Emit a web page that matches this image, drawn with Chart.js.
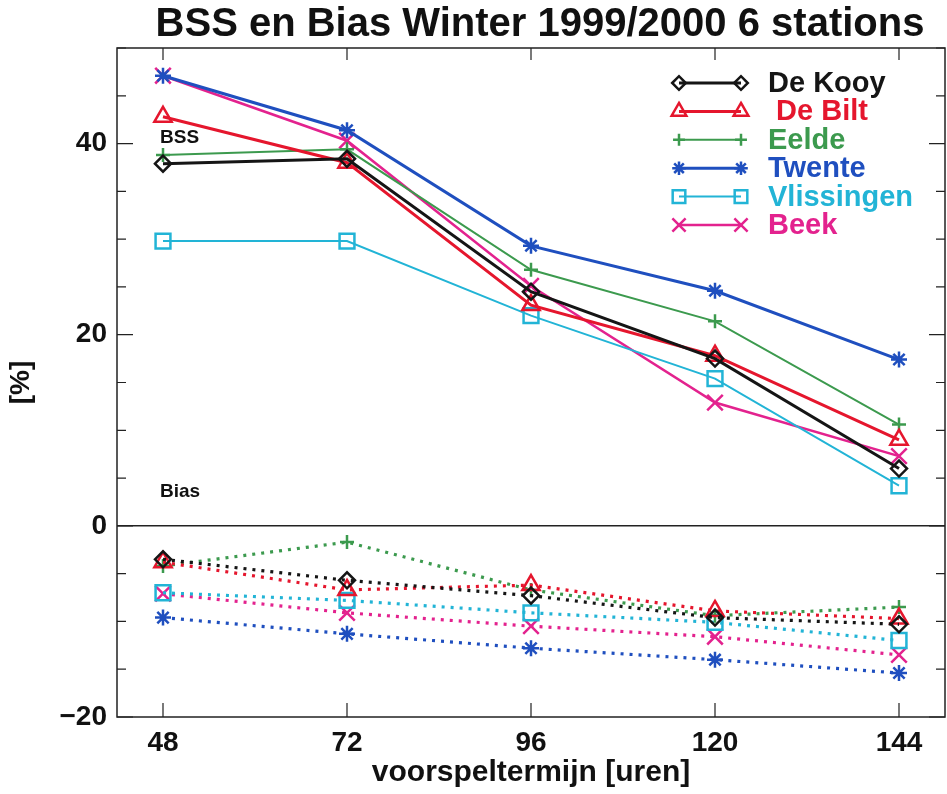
<!DOCTYPE html>
<html>
<head>
<meta charset="utf-8">
<script src="https://cdn.jsdelivr.net/npm/chart.js@4/dist/chart.umd.min.js"></script>
<style>
  html, body { margin: 0; padding: 0; background: #fff; overflow: hidden; }
  canvas { display: block; }
</style>
</head>
<body>
<canvas id="chartBss" width="947" height="794"></canvas>
<script>
// === Data ===
const hours = [48, 72, 96, 120, 144];
const stations = ["De Kooy", " De Bilt", "Eelde", "Twente", "Vlissingen", "Beek"];

const bssDeKooy = [37.9, 38.4, 24.5, 17.5, 6.0];
const bssDeBilt = [42.8, 38.0, 23.1, 17.8, 9.0];
const bssEelde = [38.8, 39.4, 26.8, 21.4, 10.6];
const bssTwente = [47.1, 41.4, 29.3, 24.6, 17.4];
const bssVlissingen = [29.8, 29.8, 22.0, 15.4, 4.2];
const bssBeek = [47.1, 40.3, 25.1, 12.9, 7.3];

const biasDeKooy = [-3.5, -5.7, -7.3, -9.6, -10.3];
const biasDeBilt = [-3.8, -6.7, -6.2, -8.9, -9.7];
const biasEelde = [-4.2, -1.7, -6.7, -9.4, -8.5];
const biasTwente = [-9.6, -11.3, -12.8, -14.0, -15.4];
const biasVlissingen = [-7.0, -7.8, -9.1, -10.1, -12.0];
const biasBeek = [-7.1, -9.1, -10.5, -11.6, -13.5];

const yTickLabels = [-20, 0, 20, 40];

// === Styles ===
const colors = ["#151515", "#e5162d", "#3c9a4e", "#1f4fbf", "#22b4d6", "#e3228e"];
const markers = ["rectRot", "triangle", "cross", "star", "rect", "crossRot"];
const radii = [8, 10, 7, 8, 10.5, 11];
const lineWidths = [3, 3, 2, 3, 2, 2.5];

const bssSeries = [bssDeKooy, bssDeBilt, bssEelde, bssTwente, bssVlissingen, bssBeek];
const biasSeries = [biasDeKooy, biasDeBilt, biasEelde, biasTwente, biasVlissingen, biasBeek];

const toPoints = (vals) => vals.map((v, i) => ({ x: hours[i], y: v }));

const datasets = [];
biasSeries.forEach((vals, i) => {
  datasets.push({
    label: stations[i] + " bias",
    data: toPoints(vals),
    borderColor: colors[i],
    borderWidth: 3.2,
    borderDash: [3, 6],
    pointStyle: markers[i],
    pointRadius: radii[i],
    pointBorderWidth: 2.5,
    pointBorderColor: colors[i],
    pointBackgroundColor: "rgba(255,255,255,0)",
    tension: 0,
  });
});
bssSeries.forEach((vals, i) => {
  datasets.push({
    label: stations[i],
    data: toPoints(vals),
    borderColor: colors[i],
    borderWidth: lineWidths[i],
    pointStyle: markers[i],
    pointRadius: radii[i],
    pointBorderWidth: 2.5,
    pointBorderColor: colors[i],
    pointBackgroundColor: "rgba(255,255,255,0)",
    tension: 0,
  });
});

const FONT = '"Liberation Sans", Arial, Helvetica, sans-serif';
Chart.defaults.font.family = FONT;
Chart.defaults.color = "#111";

// frame, inward ticks, title, labels and legend
const framePlugin = {
  id: "frame",
  afterDraw(chart) {
    const { ctx, chartArea: a, scales } = chart;
    const x = scales.x, y = scales.y;
    ctx.save();
    ctx.strokeStyle = "#222";
    ctx.lineWidth = 1.5;
    ctx.strokeRect(a.left, a.top, a.right - a.left, a.bottom - a.top);

    // line at zero
    const y0 = y.getPixelForValue(0);
    ctx.beginPath();
    ctx.moveTo(a.left, y0);
    ctx.lineTo(a.right, y0);
    ctx.stroke();

    ctx.lineWidth = 1.2;
    y.ticks.forEach((t) => {
      const py = y.getPixelForValue(t.value);
      const len = yTickLabels.includes(t.value) ? 16 : 9;
      ctx.beginPath();
      ctx.moveTo(a.left, py); ctx.lineTo(a.left + len, py);
      ctx.moveTo(a.right, py); ctx.lineTo(a.right - len, py);
      ctx.stroke();
    });
    x.ticks.forEach((t) => {
      const px = x.getPixelForValue(t.value);
      ctx.beginPath();
      ctx.moveTo(px, a.bottom); ctx.lineTo(px, a.bottom - 14);
      ctx.moveTo(px, a.top); ctx.lineTo(px, a.top + 12);
      ctx.stroke();
    });

    // title
    ctx.fillStyle = "#111";
    ctx.font = "bold 40px " + FONT;
    ctx.textAlign = "center";
    ctx.textBaseline = "alphabetic";
    ctx.fillText("BSS en Bias Winter 1999/2000 6 stations", 540, 36);

    // BSS / Bias labels
    ctx.font = "bold 19px " + FONT;
    ctx.textAlign = "left";
    ctx.fillText("BSS", 160, 143);
    ctx.fillText("Bias", 160, 497);

    // legend
    const rowY0 = 83, rowStep = 28.4;
    ctx.font = "bold 29px " + FONT;
    ctx.textBaseline = "middle";
    stations.forEach((name, i) => {
      const ry = rowY0 + i * rowStep;
      ctx.strokeStyle = colors[i];
      ctx.fillStyle = "rgba(255,255,255,0)";
      ctx.lineWidth = lineWidths[i];
      ctx.setLineDash([]);
      ctx.beginPath();
      ctx.moveTo(679, ry); ctx.lineTo(741, ry);
      ctx.stroke();
      ctx.lineWidth = 2.5;
      [679, 741].forEach((mx) => {
        Chart.helpers.drawPoint(ctx, {
          pointStyle: markers[i], radius: radii[i] * 0.85, rotation: 0, borderWidth: 2.5,
        }, mx, ry);
      });
      ctx.fillStyle = colors[i];
      ctx.fillText(name, 768, ry + 1);
    });
    ctx.restore();
  },
};

new Chart(document.getElementById("chartBss"), {
  type: "line",
  data: { datasets },
  options: {
    responsive: false,
    animation: false,
    devicePixelRatio: 1,
    layout: { autoPadding: false, padding: { top: 48, right: 2, left: 0, bottom: 0 } },
    plugins: { legend: { display: false }, tooltip: { enabled: false } },
    scales: {
      x: {
        type: "linear",
        min: 42,
        max: 150,
        afterBuildTicks: (s) => { s.ticks = hours.map((v) => ({ value: v })); },
        afterFit: (s) => { s.height = 77; s.paddingLeft = 0; s.paddingRight = 0; },
        grid: { display: false, drawTicks: false },
        border: { display: false },
        ticks: {
          autoSkip: false,
          maxRotation: 0,
          padding: 9,
          color: "#111",
          font: { size: 28, weight: "bold" },
          callback: (v) => String(v),
        },
        title: {
          display: true,
          text: "voorspeltermijn [uren]",
          color: "#111",
          font: { size: 30, weight: "bold" },
          padding: { top: 0, bottom: 3 },
        },
      },
      y: {
        min: -20,
        max: 50,
        afterFit: (s) => { s.width = 117; s.paddingTop = 0; s.paddingBottom = 0; },
        grid: { display: false, drawTicks: false },
        border: { display: false },
        ticks: {
          stepSize: 5,
          autoSkip: false,
          padding: 10,
          color: "#111",
          font: { size: 28, weight: "bold" },
          callback: (v) => (yTickLabels.includes(v) ? String(v).replace("-", "\u2212") : ""),
        },
        title: {
          display: true,
          text: "[%]",
          color: "#111",
          font: { size: 28, weight: "bold" },
          padding: { top: 4, bottom: 0 },
        },
      },
    },
  },
  plugins: [framePlugin],
});
</script>
</body>
</html>
